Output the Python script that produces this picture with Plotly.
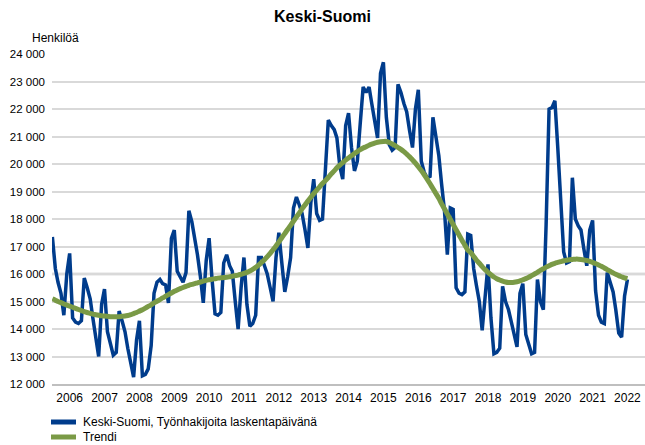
import pandas as pd
import plotly.graph_objects as go

# Monthly values Jan 2006 .. Jul 2022
jobseekers = [
    # 2006
    17350, 16200, 15700, 15300, 14500, 16000, 16750, 14400, 14250, 14200, 14300, 15850,
    # 2007
    15500, 15100, 14400, 13700, 13000, 14900, 15450, 13900, 13400, 13050, 13150, 14650,
    # 2008
    14300, 13900, 13300, 12800, 12250, 13600, 14300, 12300, 12350, 12550, 13400, 15300,
    # 2009
    15700, 15800, 15650, 15600, 14950, 17300, 17600, 16100, 15900, 15700, 16050, 18300,
    # 2010
    17900, 17300, 16700, 15900, 14950, 16500, 17300, 15800, 14550, 14500, 14600, 16400,
    # 2011
    16700, 16300, 16100, 15000, 14000, 15500, 16600, 14900, 14100, 14200, 14500, 16600,
    # 2012
    16600, 16300, 16000, 15500, 15000, 16600, 17500, 16400, 15350, 15900, 16600, 18400,
    # 2013
    18800, 18500, 18200, 17600, 16950, 18600, 19450, 18200, 17950, 18000, 19700, 21600,
    # 2014
    21400, 21250, 20950, 19900, 19450, 21400, 21850, 20600, 19750, 20100, 21500, 22800,
    # 2015
    22600, 22800, 22200, 21500, 20950, 23300, 23700, 21700, 20700, 20500, 20600, 22900,
    # 2016
    22600, 22200, 21900, 21200, 20600, 22000, 22700, 20100, 19700, 19500, 19550, 21700,
    # 2017
    21000, 20300, 19300, 18300, 16700, 18400, 18350, 15500, 15300, 15250, 15350, 17450,
    # 2018
    17400, 16200, 15600, 15000, 13950, 15300, 16350, 14400, 13100, 13150, 13300, 15550,
    # 2019
    15000, 14700, 14300, 13800, 13350, 15300, 15650, 13800, 13400, 13100, 13150, 15800,
    # 2020
    15000, 14700, 17800, 22000, 22050, 22300, 20600, 18500, 16800, 16400, 16450, 19500,
    # 2021
    18000, 17750, 17600, 16900, 16300, 17600, 17950, 15400, 14500, 14250, 14200, 16050,
    # 2022
    15700, 15350, 14700, 13850, 13700, 15200, 15800,
]

trend = [
    # 2006
    15100, 15050, 15000, 14960, 14910, 14870, 14830, 14790, 14750, 14710, 14670, 14630,
    # 2007
    14600, 14570, 14540, 14520, 14500, 14480, 14470, 14460, 14450, 14450, 14450, 14450,
    # 2008
    14460, 14470, 14490, 14520, 14560, 14600, 14650, 14700, 14760, 14820, 14880, 14950,
    # 2009
    15010, 15070, 15130, 15190, 15250, 15310, 15370, 15420, 15470, 15510, 15550, 15590,
    # 2010
    15620, 15650, 15680, 15710, 15740, 15770, 15790, 15810, 15830, 15850, 15860, 15870,
    # 2011
    15880, 15900, 15920, 15940, 15960, 15990, 16020, 16060, 16110, 16170, 16240, 16320,
    # 2012
    16420, 16520, 16630, 16750, 16880, 17020, 17170, 17320, 17470, 17620, 17770, 17920,
    # 2013
    18070, 18220, 18370, 18510, 18650, 18790, 18920, 19050, 19170, 19290, 19400, 19510,
    # 2014
    19640, 19750, 19860, 19960, 20050, 20140, 20220, 20300, 20380, 20450, 20520, 20580,
    # 2015
    20630, 20680, 20720, 20760, 20790, 20810, 20820, 20820, 20780, 20730, 20670, 20600,
    # 2016
    20530, 20450, 20360, 20260, 20150, 20030, 19900, 19760, 19610, 19450, 19280, 19110,
    # 2017
    18930, 18750, 18560, 18370, 18180, 17990, 17800, 17610, 17420, 17230, 17050, 16870,
    # 2018
    16780, 16640, 16510, 16390, 16270, 16160, 16060, 15970, 15890, 15830, 15780, 15740,
    # 2019
    15710, 15690, 15690, 15700, 15720, 15750, 15790, 15830, 15880, 15940, 16000, 16060,
    # 2020
    16130, 16190, 16250, 16300, 16350, 16390, 16420, 16450, 16480, 16500, 16520, 16530,
    # 2021
    16540, 16540, 16530, 16510, 16490, 16460, 16420, 16380, 16330, 16280, 16220, 16160,
    # 2022
    16100, 16040, 15990, 15940, 15900, 15860, 15830,
]

series_names = ["Keski-Suomi, Työnhakijoita laskentapäivänä", "Trendi"]
years = list(range(2006, 2023))
year_labels = [str(y) for y in years]
y_ticks = [12000, 13000, 14000, 15000, 16000, 17000, 18000, 19000, 20000, 21000, 22000, 23000, 24000]
y_tick_labels = ["12 000", "13 000", "14 000", "15 000", "16 000", "17 000", "18 000",
                 "19 000", "20 000", "21 000", "22 000", "23 000", "24 000"]

months = pd.date_range("2006-01-01", periods=len(jobseekers), freq="MS")
year_mid = [pd.Timestamp(f"{y}-07-01") for y in years]

BLUE = "#003C8C"
GREEN = "#7A9A46"
FONT = "Liberation Sans, Arial, sans-serif"

# plot area in pixels: x 52..645, y 54..384
PL, PR, PT, PB = 52, 645, 54, 384
PW, PH = PR - PL, PB - PT


def px_x(x):
    return (x - PL) / PW


def px_y(y):
    return (PB - y) / PH


fig = go.Figure()
fig.add_trace(go.Scatter(
    x=months, y=jobseekers, mode="lines", name=series_names[0],
    line=dict(color=BLUE, width=3.5), showlegend=False,
))
fig.add_trace(go.Scatter(
    x=months, y=trend, mode="lines", name=series_names[1],
    line=dict(color=GREEN, width=5, shape="spline"), showlegend=False,
))

fig.add_shape(type="line", xref="paper", x0=0, x1=1, yref="y", y0=16000, y1=16000,
              line=dict(color="#BFBFBF", width=2.5), layer="below")

annotations = [dict(text="Henkilöä", xref="paper", yref="paper",
                    x=px_x(30), y=px_y(38), xanchor="left", yanchor="middle",
                    showarrow=False, font=dict(family=FONT, size=12, color="#000000"))]

# manual legend
for name, color, ypix in zip(series_names, [BLUE, GREEN], [422, 437]):
    fig.add_shape(type="line", xref="paper", yref="paper",
                  x0=px_x(51), x1=px_x(76), y0=px_y(ypix), y1=px_y(ypix),
                  line=dict(color=color, width=5))
    annotations.append(dict(text=name, xref="paper", yref="paper",
                            x=px_x(81), y=px_y(ypix), xanchor="left", yanchor="middle",
                            showarrow=False,
                            font=dict(family=FONT, size=12, color="#000000")))

fig.update_layout(
    width=645, height=445,
    margin=dict(l=PL, r=645 - PR, t=PT, b=445 - PB, autoexpand=False),
    paper_bgcolor="white", plot_bgcolor="white",
    font=dict(family=FONT, size=12, color="#000000"),
    title=dict(text="<b>Keski-Suomi</b>", x=0.5, xref="container", xanchor="center",
               y=1 - 16 / 445, yref="container", yanchor="middle",
               font=dict(family=FONT, size=16, color="#000000")),
    showlegend=False,
    xaxis=dict(
        type="date", range=["2005-12-28", "2023-01-01"],
        tickmode="array", tickvals=year_mid, ticktext=year_labels, tickangle=0,
        showgrid=False, zeroline=False, ticks="", automargin=False,
        showline=True, linecolor="#BFBFBF", linewidth=1.5,
        tickfont=dict(family=FONT, size=12, color="#000000"),
        ticklabelstandoff=2,
    ),
    yaxis=dict(
        range=[12000, 24000], tickmode="array", tickvals=y_ticks, ticktext=y_tick_labels,
        showgrid=True, gridcolor="#D9D9D9", gridwidth=1.5, automargin=False,
        zeroline=False, ticks="", showline=False,
        tickfont=dict(family=FONT, size=11.5, color="#000000"),
        ticklabelstandoff=6,
    ),
    annotations=annotations,
)

fig.write_html(
    "out.html",
    config={"displayModeBar": False},
    post_script="document.body.style.margin='0';document.body.style.overflow='hidden';",
)
